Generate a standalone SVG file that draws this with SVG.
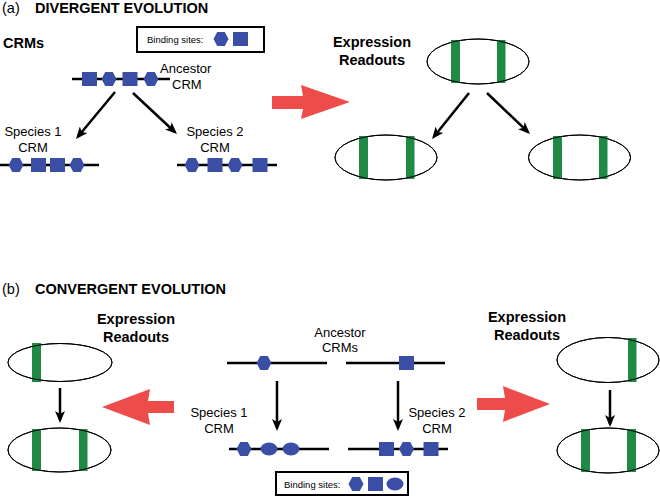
<svg xmlns="http://www.w3.org/2000/svg" width="660" height="496" viewBox="0 0 660 496">
<defs>
<style>
.t{font-family:"Liberation Sans",Arial,sans-serif;fill:#000}
.title{font-size:14.5px;font-weight:bold}
.paren{font-size:14.5px}
.bold{font-size:14.5px;font-weight:bold}
.lab{font-size:13px}
.small{font-size:9.5px}
.dna{stroke:#000;stroke-width:2.5;fill:none}
.bs{fill:#3B4EA6}
.cell{fill:#fff;stroke:#000;stroke-width:1}
.band{fill:#1F8A45}
.arr{stroke:#000;stroke-width:2.5;fill:none;marker-end:url(#ah)}
.red{fill:#EE4B4B}
.box{fill:#fff;stroke:#000;stroke-width:2}
</style>
<marker id="ah" viewBox="0 0 12 10" markerWidth="12" markerHeight="10" refX="9" refY="5" orient="auto" markerUnits="userSpaceOnUse">
<path d="M0,0 L12,5 L0,10 L3,5 z" fill="#000"/>
</marker>
<polygon id="hex" points="-7.5,0 -3.8,-7 3.8,-7 7.5,0 3.8,7 -3.8,7"/>
<rect id="sq" x="-7.5" y="-7" width="15" height="14"/>
<ellipse id="ov" cx="0" cy="0" rx="8.5" ry="6.5"/>
</defs>

<!-- Panel (a) -->
<g id="title-a">
<text class="t paren" x="2" y="13">(a)</text>
<text class="t title" x="35" y="13">DIVERGENT EVOLUTION</text>
</g>
<g id="crms-label"><text class="t bold" x="3" y="48">CRMs</text></g>

<g id="legend-a">
<rect class="box" x="137" y="27" width="127" height="25"/>
<text class="t small" x="147" y="43">Binding sites:</text>
<use href="#hex" class="bs" x="221" y="39"/>
<use href="#sq" class="bs" x="240.5" y="39"/>
</g>

<g id="ancestor-crm">
<line class="dna" x1="72" y1="79" x2="170" y2="79"/>
<use href="#sq" class="bs" x="89.5" y="79"/>
<use href="#hex" class="bs" x="109" y="79"/>
<use href="#sq" class="bs" x="130" y="79"/>
<use href="#hex" class="bs" x="151" y="79"/>
<text class="t lab" x="160" y="73">Ancestor</text>
<text class="t lab" x="172" y="89">CRM</text>
</g>

<g id="species1-crm-a">
<text class="t lab" x="33" y="136" text-anchor="middle">Species 1</text>
<text class="t lab" x="33" y="152" text-anchor="middle">CRM</text>
<line class="dna" x1="0" y1="165" x2="99" y2="165"/>
<use href="#hex" class="bs" x="16" y="165"/>
<use href="#sq" class="bs" x="38.5" y="165"/>
<use href="#sq" class="bs" x="57.5" y="165"/>
<use href="#hex" class="bs" x="77" y="165"/>
</g>

<g id="species2-crm-a">
<text class="t lab" x="215" y="136" text-anchor="middle">Species 2</text>
<text class="t lab" x="215" y="152" text-anchor="middle">CRM</text>
<line class="dna" x1="177" y1="165" x2="277" y2="165"/>
<use href="#hex" class="bs" x="192" y="165"/>
<use href="#sq" class="bs" x="215" y="165"/>
<use href="#hex" class="bs" x="235" y="165"/>
<use href="#sq" class="bs" x="260" y="165"/>
</g>

<g id="red-arrow-a">
<path class="red" d="M272,96 L303,96 L301,85 L350,102 L301,119 L303,109 L272,109 Z"/>
</g>

<g id="readouts-label-a">
<text class="t bold" x="372" y="47" text-anchor="middle">Expression</text>
<text class="t bold" x="372" y="65" text-anchor="middle">Readouts</text>
</g>

<g id="ancestor-readout">
<ellipse class="cell" cx="478" cy="61.5" rx="51" ry="22.5"/>
<rect class="band" x="451" y="40" width="9" height="43"/>
<rect class="band" x="497" y="40" width="8.5" height="43"/>
<ellipse cx="478" cy="61.5" rx="51" ry="22.5" fill="none" stroke="#000" stroke-width="1"/>
</g>

<g id="species1-readout-a">
<ellipse class="cell" cx="386" cy="157.5" rx="51" ry="22.5"/>
<rect class="band" x="359" y="136" width="9" height="43"/>
<rect class="band" x="406" y="136" width="8.5" height="43"/>
<ellipse cx="386" cy="157.5" rx="51" ry="22.5" fill="none" stroke="#000" stroke-width="1"/>
</g>

<g id="species2-readout-a">
<ellipse class="cell" cx="579.5" cy="157.5" rx="51" ry="22.5"/>
<rect class="band" x="553" y="136" width="9" height="43"/>
<rect class="band" x="599" y="136" width="8.5" height="43"/>
<ellipse cx="579.5" cy="157.5" rx="51" ry="22.5" fill="none" stroke="#000" stroke-width="1"/>
</g>

<!-- Panel (b) -->
<g id="title-b">
<text class="t paren" x="2" y="294">(b)</text>
<text class="t title" x="35" y="294">CONVERGENT EVOLUTION</text>
</g>

<g id="readouts-label-b-left">
<text class="t bold" x="136" y="324" text-anchor="middle">Expression</text>
<text class="t bold" x="136" y="342" text-anchor="middle">Readouts</text>
</g>

<g id="ancestor-readout-b-left">
<ellipse class="cell" cx="60" cy="362.5" rx="52" ry="19"/>
<rect class="band" x="32" y="343" width="9" height="39"/>
<ellipse cx="60" cy="362.5" rx="52" ry="19" fill="none" stroke="#000" stroke-width="1"/>
</g>

<g id="species1-readout-b">
<ellipse class="cell" cx="59.5" cy="450" rx="51.5" ry="22"/>
<rect class="band" x="32" y="429" width="9" height="42"/>
<rect class="band" x="79" y="429" width="8.5" height="42"/>
<ellipse cx="59.5" cy="450" rx="51.5" ry="22" fill="none" stroke="#000" stroke-width="1"/>
</g>

<g id="red-arrow-b-left">
<path class="red" d="M174,401 L148,401 L150,389 L102,407 L150,425 L148,413 L174,413 Z"/>
</g>

<g id="ancestor-crms-b">
<text class="t lab" x="340" y="337" text-anchor="middle">Ancestor</text>
<text class="t lab" x="340" y="352" text-anchor="middle">CRMs</text>
<line class="dna" x1="227" y1="363" x2="327" y2="363"/>
<use href="#hex" class="bs" x="264" y="363"/>
<line class="dna" x1="346" y1="363" x2="445" y2="363"/>
<use href="#sq" class="bs" x="406.5" y="363"/>
</g>

<g id="species1-crm-b">
<text class="t lab" x="219" y="417" text-anchor="middle">Species 1</text>
<text class="t lab" x="219" y="433" text-anchor="middle">CRM</text>
<line class="dna" x1="229" y1="449" x2="329" y2="449"/>
<use href="#hex" class="bs" x="244" y="449"/>
<use href="#ov" class="bs" x="269" y="449"/>
<use href="#ov" class="bs" x="291" y="449"/>
</g>

<g id="species2-crm-b">
<text class="t lab" x="437" y="417" text-anchor="middle">Species 2</text>
<text class="t lab" x="437" y="433" text-anchor="middle">CRM</text>
<line class="dna" x1="348" y1="449" x2="448" y2="449"/>
<use href="#sq" class="bs" x="386.5" y="449"/>
<use href="#hex" class="bs" x="406.5" y="449"/>
<use href="#sq" class="bs" x="431" y="449"/>
</g>

<g id="legend-b">
<rect class="box" x="276" y="472" width="132" height="23"/>
<text class="t small" x="284" y="488">Binding sites:</text>
<use href="#hex" class="bs" x="356" y="484"/>
<use href="#sq" class="bs" x="375.5" y="484"/>
<use href="#ov" class="bs" x="395" y="484"/>
</g>

<g id="red-arrow-b-right">
<path class="red" d="M477,398 L505,398 L503,386 L550,404 L503,422 L505,410 L477,410 Z"/>
</g>

<g id="readouts-label-b-right">
<text class="t bold" x="527" y="322" text-anchor="middle">Expression</text>
<text class="t bold" x="527" y="340" text-anchor="middle">Readouts</text>
</g>

<g id="ancestor-readout-b-right">
<ellipse class="cell" cx="608" cy="360" rx="51" ry="22.5"/>
<rect class="band" x="628" y="338" width="8.5" height="44"/>
<ellipse cx="608" cy="360" rx="51" ry="22.5" fill="none" stroke="#000" stroke-width="1"/>
</g>

<g id="species2-readout-b">
<ellipse class="cell" cx="608" cy="450.5" rx="51" ry="22.5"/>
<rect class="band" x="581" y="429" width="9" height="43"/>
<rect class="band" x="627" y="429" width="9" height="43"/>
<ellipse cx="608" cy="450.5" rx="51" ry="22.5" fill="none" stroke="#000" stroke-width="1"/>
</g>

<g id="connectors">
<line class="arr" x1="115" y1="92" x2="77.9" y2="136.7"/>
<line class="arr" x1="133" y1="93" x2="174.8" y2="132"/>
<line class="arr" x1="469" y1="93" x2="433.9" y2="136.7"/>
<line class="arr" x1="487" y1="93" x2="527.8" y2="131.9"/>
<line class="arr" x1="60" y1="388" x2="60" y2="420"/>
<line class="arr" x1="277" y1="381" x2="277" y2="428"/>
<line class="arr" x1="398" y1="381" x2="398" y2="428"/>
<line class="arr" x1="610" y1="390" x2="610" y2="424"/>
</g>
</svg>
